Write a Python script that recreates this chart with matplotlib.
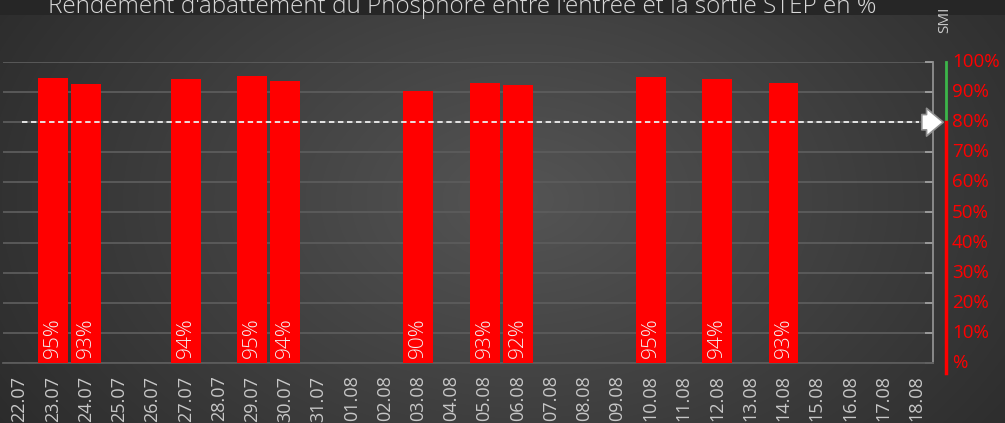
import matplotlib.pyplot as plt
import matplotlib.transforms as mtransforms
import numpy as np

dates = ['22.07', '23.07', '24.07', '25.07', '26.07', '27.07', '28.07', '29.07', '30.07', '31.07',
         '01.08', '02.08', '03.08', '04.08', '05.08', '06.08', '07.08', '08.08', '09.08', '10.08',
         '11.08', '12.08', '13.08', '14.08', '15.08', '16.08', '17.08', '18.08']
# None = no measurement that day
rendement = [None, 94.7, 92.7, None, None, 94.4, None, 95.2, 93.8, None,
             None, None, 90.4, None, 93.0, 92.4, None, None, None, 95.1,
             None, 94.3, None, 93.0, None, None, None, None]
labels = ['', '95%', '93%', '', '', '94%', '', '95%', '94%', '',
          '', '', '90%', '', '93%', '92%', '', '', '', '95%',
          '', '94%', '', '93%', '', '', '', '']
seuil = 80
yticks = [0, 10, 20, 30, 40, 50, 60, 70, 80, 90, 100]
ytick_labels = ['%', '10%', '20%', '30%', '40%', '50%', '60%', '70%', '80%', '90%', '100%']

plt.rcParams['font.family'] = ['Open Sans', 'DejaVu Sans']

fig = plt.figure(figsize=(10.05, 4.23), dpi=100)

# radial gradient background
bg = fig.add_axes([0, 0, 1, 1], zorder=-10)
yy, xx = np.mgrid[0:423, 0:1005]
r = np.sqrt(((xx - 520) / 620.0) ** 2 + ((yy - 200) / 420.0) ** 2)
shade = np.clip(0.33 - 0.16 * r, 0.16, 0.33)
img = np.dstack([shade, shade, shade])
img[:16, :, :] = 0.15
bg.imshow(img, aspect='auto', extent=[0, 1, 0, 1], origin='upper')
bg.axis('off')

ax = fig.add_axes([3 / 1005, 60 / 423, 930 / 1005, 301 / 423])
ax.set_facecolor('none')
x = np.arange(len(dates))
vals = [v if v is not None else 0 for v in rendement]
ax.bar(x, vals, width=0.9, color='#ff0000', zorder=3)
for xi, v, lab in zip(x, rendement, labels):
    if v is not None:
        ax.text(xi, 1.5, lab, rotation=90, ha='center', va='bottom',
                color='#f2f2f2', fontsize=15, fontweight='light', zorder=4)

ax.axhline(seuil, xmin=0.02, xmax=0.985, color='#f0f0f0', ls=(0, (3, 2)), lw=1.3, zorder=5)

ax.set_xlim(-0.5, len(dates) - 0.5)
ax.set_ylim(0, 100)
ax.set_yticks(yticks)
ax.yaxis.grid(True, color='#5c5c5c', lw=1.3, zorder=0)
ax.yaxis.tick_right()
ax.tick_params(axis='y', colors='#a0a0a0', direction='in', length=6, width=1.3, labelright=False)
ax.set_xticks(x)
ax.set_xticklabels(dates, rotation=90, color='#c8c8c8', fontsize=13)
ax.tick_params(axis='x', length=0, pad=9)
for s in ['left', 'top']:
    ax.spines[s].set_visible(False)
ax.spines['right'].set_color('#909090')
ax.spines['right'].set_linewidth(1.3)
ax.spines['bottom'].set_color('#5c5c5c')
ax.spines['bottom'].set_linewidth(1.3)

# SMI scale on the right
bl = mtransforms.blended_transform_factory(fig.transFigure, ax.transData)
xl = 946 / 1005
ax.plot([xl, xl], [seuil, 100], color='#3cb54a', lw=2, transform=bl, clip_on=False)
ax.plot([xl, xl], [-3.3, seuil], color='#ff0000', lw=2.5, transform=bl, clip_on=False)
for yt, lab in zip(yticks, ytick_labels):
    ax.text(952 / 1005, yt, lab, transform=bl, color='#ff0000', fontsize=13.5,
            ha='left', va='center', clip_on=False)
ax.annotate('', xy=(946 / 1005, seuil), xytext=(919 / 1005, seuil),
            xycoords=bl, textcoords=bl,
            arrowprops=dict(arrowstyle='simple,head_width=1.0,head_length=0.6,tail_width=0.55',
                            mutation_scale=20, fc='white', ec='#909090', lw=1.2))

fig.text(945 / 1005, 1 - 20 / 423, 'SMI', rotation=90, color='#c8c8c8', fontsize=11,
         ha='center', va='center')
fig.text(462 / 1005, 1 - 13 / 423,
         "Rendement d'abattement du Phosphore entre l'entrée et la sortie STEP en %",
         color='#d8d8d8', fontsize=17.5, fontweight='light', ha='center', va='baseline')

fig.savefig('out.png', dpi=100)
